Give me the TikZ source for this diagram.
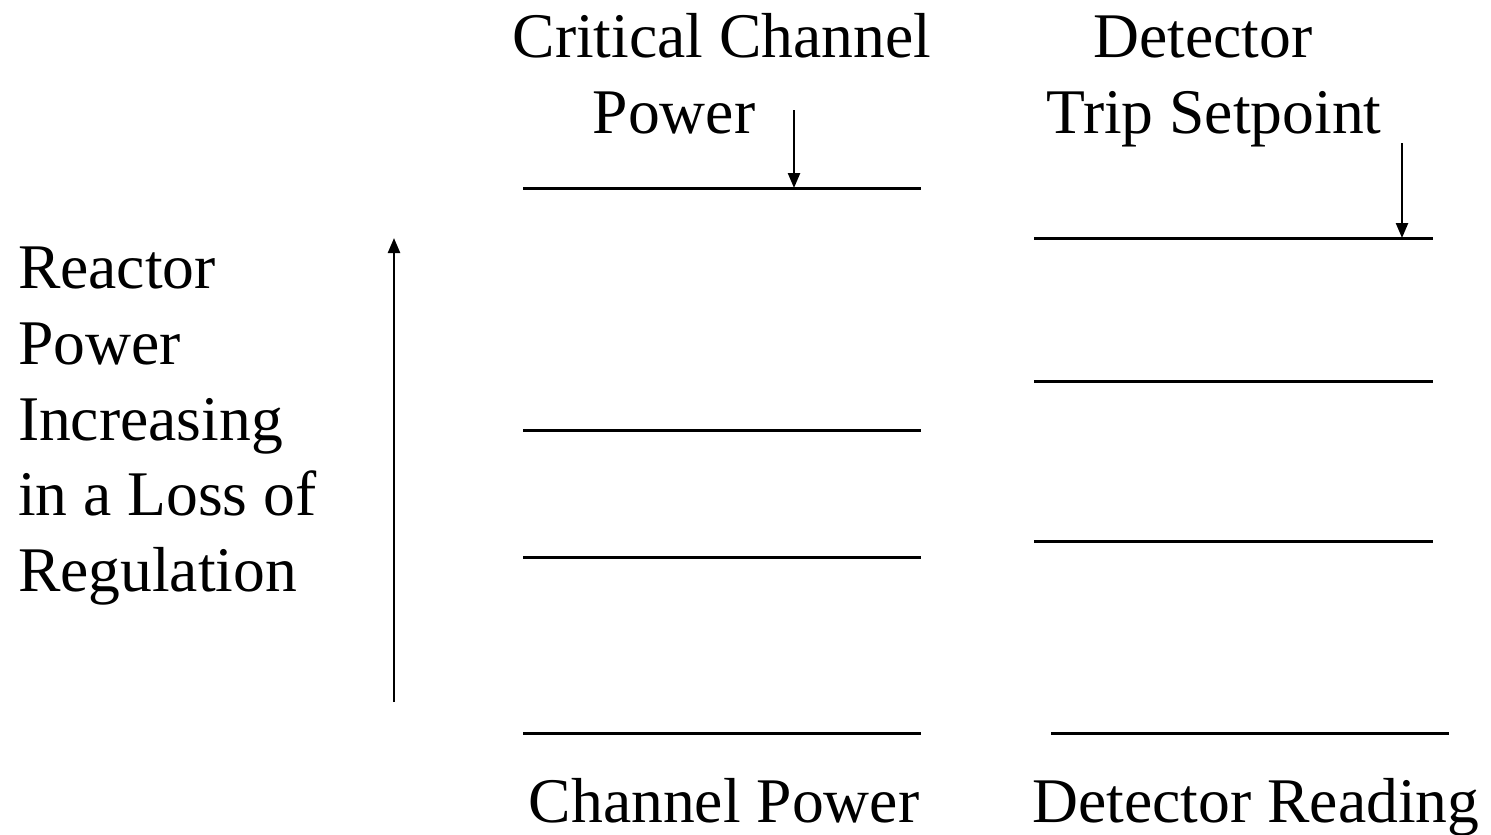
\documentclass[tikz,border=0pt]{standalone}
\usepackage{fontspec}
\setmainfont{Liberation Serif}
\usetikzlibrary{arrows.meta}
\begin{document}
\begin{tikzpicture}[x=1pt,y=-1pt,
  lbl/.style={inner sep=0pt,outer sep=0pt,font=\fontsize{63.6}{76}\selectfont},
  level/.style={line width=3pt},
  pointer/.style={line width=2.4pt,-{Triangle[length=15pt,width=12pt]}}]
\useasboundingbox (0,0) rectangle (1491,835);
% top labels
\node[lbl,anchor=base] (cc1) at (722,57) {Critical Channel};
\node[lbl,anchor=base] (cc2) at (674,133) {Power};
\node[lbl,anchor=base] (dt1) at (1203,57) {Detector};
\node[lbl,anchor=base] (dt2) at (1214,133) {Trip Setpoint};
% bottom labels
\node[lbl,anchor=base] (cp) at (724,822) {Channel Power};
\node[lbl,anchor=base] (dr) at (1256,822) {Detector Reading};
% left labels
\node[lbl,anchor=base west] (l1) at (18,288) {Reactor};
\node[lbl,anchor=base west] (l2) at (18,364) {Power};
\node[lbl,anchor=base west] (l3) at (18,440) {Increasing};
\node[lbl,anchor=base west] (l4) at (18,515) {in a Loss of};
\node[lbl,anchor=base west] (l5) at (18,591) {Regulation};
% left column levels
\coordinate (a1) at (523,188); \coordinate (b1) at (921,188);
\coordinate (a2) at (523,430); \coordinate (b2) at (921,430);
\coordinate (a3) at (523,557); \coordinate (b3) at (921,557);
\coordinate (a4) at (523,733); \coordinate (b4) at (921,733);
\draw[level] (a1) -- (b1);
\draw[level] (a2) -- (b2);
\draw[level] (a3) -- (b3);
\draw[level] (a4) -- (b4);
% right column levels
\coordinate (c1) at (1034,238); \coordinate (d1) at (1433,238);
\coordinate (c2) at (1034,381); \coordinate (d2) at (1433,381);
\coordinate (c3) at (1034,541); \coordinate (d3) at (1433,541);
\coordinate (c4) at (1051,733); \coordinate (d4) at (1449,733);
\draw[level] (c1) -- (d1);
\draw[level] (c2) -- (d2);
\draw[level] (c3) -- (d3);
\draw[level] (c4) -- (d4);
% pointers
\coordinate (p1s) at (794,110); \coordinate (p1e) at (794,188);
\draw[pointer] (p1s) -- (p1e);
\coordinate (p2s) at (1402,143); \coordinate (p2e) at (1402,238);
\draw[pointer] (p2s) -- (p2e);
\coordinate (ups) at (394,702); \coordinate (upe) at (394,238);
\draw[pointer] (ups) -- (upe);
\end{tikzpicture}
\end{document}
